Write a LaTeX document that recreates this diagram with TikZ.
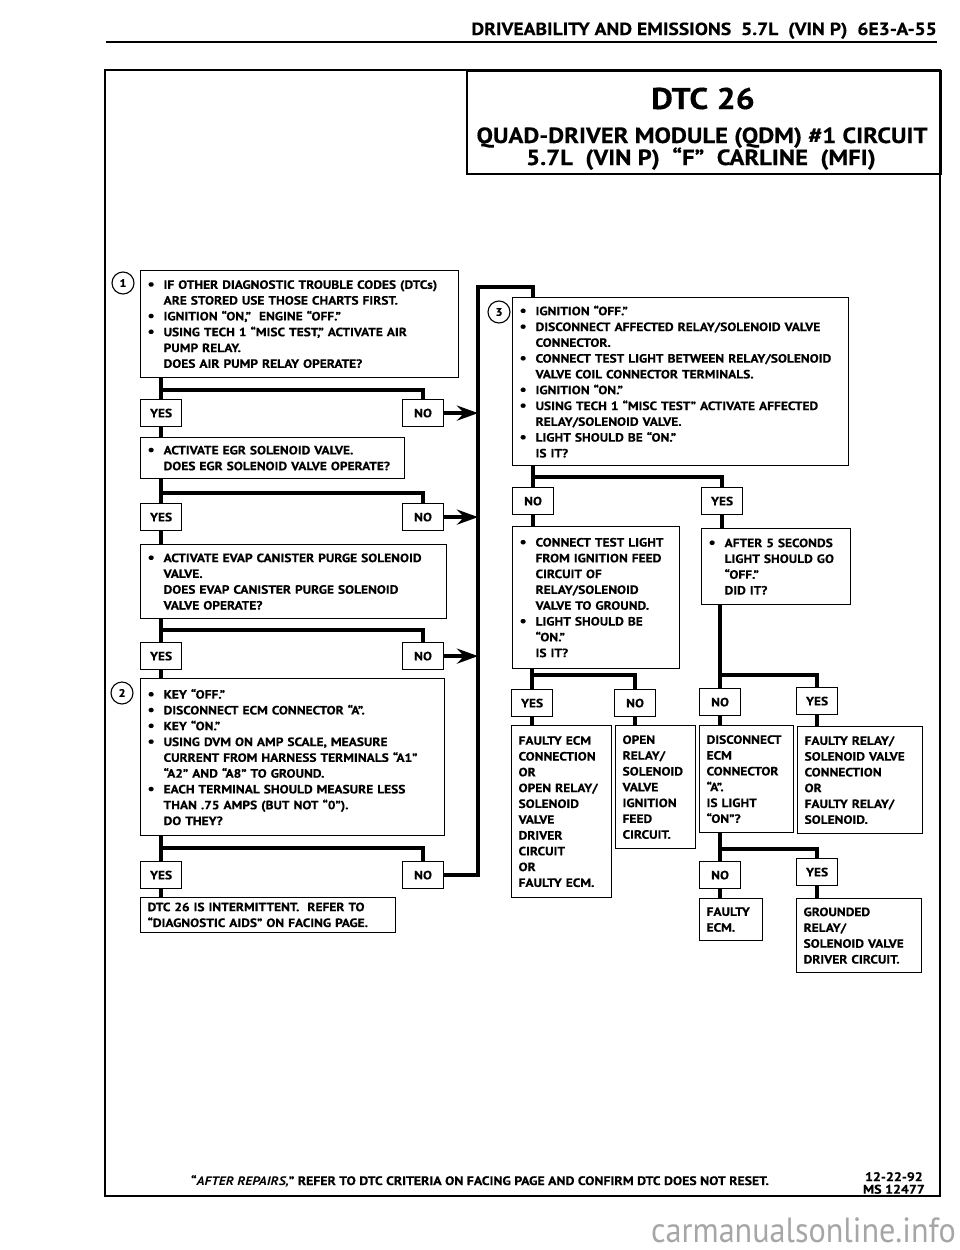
\documentclass[tikz,border=0pt]{standalone}
\usepackage{fontspec}
\setmainfont{PT Sans}[FakeStretch=1.12, BoldFeatures={FakeBold=0.4}]
\newfontfamily\markfont{PT Sans}[FakeStretch=0.92]
\usetikzlibrary{arrows.meta}

\newcommand{\bl}{\makebox[16pt][l]{\fontsize{14}{14}\selectfont\textbullet}}
\newcommand{\ind}{\hspace*{16pt}}

\begin{document}
\begin{tikzpicture}[
  x=1pt, y=-1pt,
  every node/.style={font=\bfseries\fontsize{12}{15.8}\selectfont, inner sep=0pt},
  qbox/.style={draw, line width=1.2pt, anchor=north west, align=left, inner xsep=7pt, inner ysep=5pt},
  ans/.style={draw, line width=1.2pt, anchor=north west, minimum width=41pt, minimum height=27pt},
  num/.style={circle, draw, line width=1.1pt, minimum size=22pt, font=\bfseries\fontsize{11}{12}\selectfont},
  flow/.style={line width=3.8pt},
  feed/.style={line width=3.8pt, -{Stealth[length=21pt,width=15pt,inset=7pt]}}
]
\useasboundingbox (0,0) rectangle (960,1250);

% page head
\node[anchor=base east, font=\bfseries\fontsize{17.5}{20}\selectfont] (head) at (937,35)
  {DRIVEABILITY AND EMISSIONS\ \ 5.7L\ \ (VIN P)\ \ 6E3-A-55};
\draw[line width=2.4pt] (106,42) -- (937,42);
\draw[line width=2pt] (105,70) rectangle (940,1196);

% title
\node[draw, line width=1.6pt, anchor=north west, minimum width=474pt, minimum height=103pt] (title) at (466,70) {};
\node[font=\bfseries\fontsize{30}{34}\selectfont, anchor=base] (dtc) at (703,109) {DTC 26};
\node[font=\bfseries\fontsize{22}{24}\selectfont, anchor=base] (sub) at (702,143)
  {QUAD-DRIVER MODULE (QDM) \#1 CIRCUIT};
\node[font=\bfseries\fontsize{22}{24}\selectfont, anchor=base] (car) at (701,165)
  {5.7L\ \ (VIN P)\ \ “F”\ \ CARLINE\ \ (MFI)};

% left column
\node[qbox, text width=304pt, minimum height=107pt] (q1) at (140,270)
  {\bl IF OTHER DIAGNOSTIC TROUBLE CODES (DTCs)\\
   \ind ARE STORED USE THOSE CHARTS FIRST.\\
   \bl IGNITION “ON,”\ \ ENGINE “OFF.”\\
   \bl USING TECH 1 “MISC TEST,” ACTIVATE AIR\\
   \ind PUMP RELAY.\\
   \ind DOES AIR PUMP RELAY OPERATE?};
\node[num] (c1) at (123,283) {1};
\node[ans] (y1) at (140,399) {YES};
\node[ans] (n1) at (402,399) {NO};

\node[qbox, text width=250pt, minimum height=41pt] (q2) at (140,437)
  {\bl ACTIVATE EGR SOLENOID VALVE.\\
   \ind DOES EGR SOLENOID VALVE OPERATE?};
\node[ans] (y2) at (140,503) {YES};
\node[ans] (n2) at (402,503) {NO};

\node[qbox, text width=292pt, minimum height=74pt] (q3) at (140,544)
  {\bl ACTIVATE EVAP CANISTER PURGE SOLENOID\\
   \ind VALVE.\\
   \ind DOES EVAP CANISTER PURGE SOLENOID\\
   \ind VALVE OPERATE?};
\node[ans] (y3) at (140,642) {YES};
\node[ans] (n3) at (402,642) {NO};

\node[qbox, text width=290pt, minimum height=157pt] (q4) at (140,678)
  {\bl KEY “OFF.”\\
   \bl DISCONNECT ECM CONNECTOR “A”.\\
   \bl KEY “ON.”\\
   \bl USING DVM ON AMP SCALE, MEASURE\\
   \ind CURRENT FROM HARNESS TERMINALS “A1”\\
   \ind “A2” AND “A8” TO GROUND.\\
   \bl EACH TERMINAL SHOULD MEASURE LESS\\
   \ind THAN .75 AMPS (BUT NOT “0”).\\
   \ind DO THEY?};
\node[num] (c2) at (122,693) {2};
\node[ans] (y4) at (140,861) {YES};
\node[ans] (n4) at (402,861) {NO};

\node[qbox, text width=241pt, minimum height=34pt] (r1) at (140,897)
  {DTC 26 IS INTERMITTENT.\ \ REFER TO\\
   “DIAGNOSTIC AIDS” ON FACING PAGE.};

% right column
\node[qbox, text width=322pt, minimum height=168pt] (q5) at (512,297)
  {\bl IGNITION “OFF.”\\
   \bl DISCONNECT AFFECTED RELAY/SOLENOID VALVE\\
   \ind CONNECTOR.\\
   \bl CONNECT TEST LIGHT BETWEEN RELAY/SOLENOID\\
   \ind VALVE COIL CONNECTOR TERMINALS.\\
   \bl IGNITION “ON.”\\
   \bl USING TECH 1 “MISC TEST” ACTIVATE AFFECTED\\
   \ind RELAY/SOLENOID VALVE.\\
   \bl LIGHT SHOULD BE “ON.”\\
   \ind IS IT?};
\node[num] (c3) at (499,312) {3};
\node[ans] (n5) at (512,487) {NO};
\node[ans] (y5) at (701,487) {YES};

\node[qbox, text width=153pt, minimum height=142pt] (q6) at (512,526)
  {\bl CONNECT TEST LIGHT\\
   \ind FROM IGNITION FEED\\
   \ind CIRCUIT OF\\
   \ind RELAY/SOLENOID\\
   \ind VALVE TO GROUND.\\
   \bl LIGHT SHOULD BE\\
   \ind “ON.”\\
   \ind IS IT?};
\node[qbox, text width=135pt, minimum height=76pt] (q7) at (701,528)
  {\bl AFTER 5 SECONDS\\
   \ind LIGHT SHOULD\ GO\\
   \ind “OFF.”\\
   \ind DID IT?};

\node[ans] (y6) at (511,689) {YES};
\node[ans] (n6) at (614,689) {NO};
\node[ans] (n7) at (699,688) {NO};
\node[ans] (y7) at (796,687) {YES};

\node[qbox, text width=86pt, minimum height=172pt] (r2) at (511,725)
  {FAULTY ECM\\CONNECTION\\OR\\OPEN RELAY/\\SOLENOID\\VALVE\\DRIVER\\CIRCUIT\\OR\\FAULTY ECM.};
\node[qbox, text width=66pt, minimum height=123pt] (r3) at (615,725)
  {OPEN\\RELAY/\\SOLENOID\\VALVE\\IGNITION\\FEED\\CIRCUIT.};
\node[qbox, text width=80pt, minimum height=107pt] (q8) at (699,725)
  {DISCONNECT\\ECM\\CONNECTOR\\“A”.\\IS LIGHT\\“ON”?};
\node[qbox, text width=111pt, minimum height=107pt] (r4) at (797,726)
  {FAULTY RELAY/\\SOLENOID VALVE\\CONNECTION\\OR\\FAULTY RELAY/\\SOLENOID.};

\node[ans] (n8) at (699,861) {NO};
\node[ans] (y8) at (796,858) {YES};
\node[qbox, text width=49pt, minimum height=42pt] (r5) at (699,898)
  {FAULTY\\ECM.};
\node[qbox, text width=111pt, minimum height=74pt] (r6) at (796,898)
  {GROUNDED\\RELAY/\\SOLENOID VALVE\\DRIVER CIRCUIT.};

% connectors
\coordinate (bus) at (478,287);
\foreach \q/\y/\n/\nxt/\bar in {q1/y1/n1/q2/390, q2/y2/n2/q3/493, q3/y3/n3/q4/630, q4/y4/n4/r1/848} {
  \draw[flow] (\q.south -| \y.north) -- (\y.north);
  \draw[flow] (\y.north |- 0,\bar) -| (\n.north);
  \draw[flow] (\y.south) -- (\nxt.north -| \y.south);
}
\foreach \n in {n1,n2,n3} \draw[feed] (\n.east) -- (\n.east -| bus);
\draw[flow] (n4.east) -| (bus) -| (q5.north -| n5.north);

\draw[flow] (q5.south -| n5.north) -- (n5.north);
\draw[flow] (n5.north |- 0,477) -| (y5.north);
\draw[flow] (n5.south) -- (q6.north -| n5.south);
\draw[flow] (y5.south) -- (q7.north -| y5.south);

\draw[flow] (q6.south -| y6.north) -- (y6.north);
\draw[flow] (y6.north |- 0,675) -| (n6.north);
\draw[flow] (q7.south -| n7.north) -- (n7.north);
\draw[flow] (n7.north |- 0,675) -| (y7.north);
\draw[flow] (y6.south) -- (r2.north -| y6.south);
\draw[flow] (n6.south) -- (r3.north -| n6.south);
\draw[flow] (n7.south) -- (q8.north -| n7.south);
\draw[flow] (y7.south) -- (r4.north -| y7.south);

\draw[flow] (q8.south -| n8.north) -- (n8.north);
\draw[flow] (n8.north |- 0,849) -| (y8.north);
\draw[flow] (n8.south) -- (r5.north -| n8.south);
\draw[flow] (y8.south) -- (r6.north -| y8.south);

% foot
\node[anchor=base, font=\bfseries\fontsize{12.3}{14}\selectfont] (foot) at (480,1185)
  {“\textit{AFTER REPAIRS,}” REFER TO DTC CRITERIA ON FACING PAGE AND CONFIRM DTC DOES NOT RESET.};
\node[anchor=east, align=center, font=\bfseries\fontsize{12.5}{12.5}\selectfont] (ms) at (925,1183)
  {12-22-92\\MS 12477};
\node[anchor=base east, text=gray!70, font=\markfont\fontsize{35}{38}\selectfont] (mark) at (956,1242)
  {carmanualsonline.info};
\end{tikzpicture}
\end{document}
